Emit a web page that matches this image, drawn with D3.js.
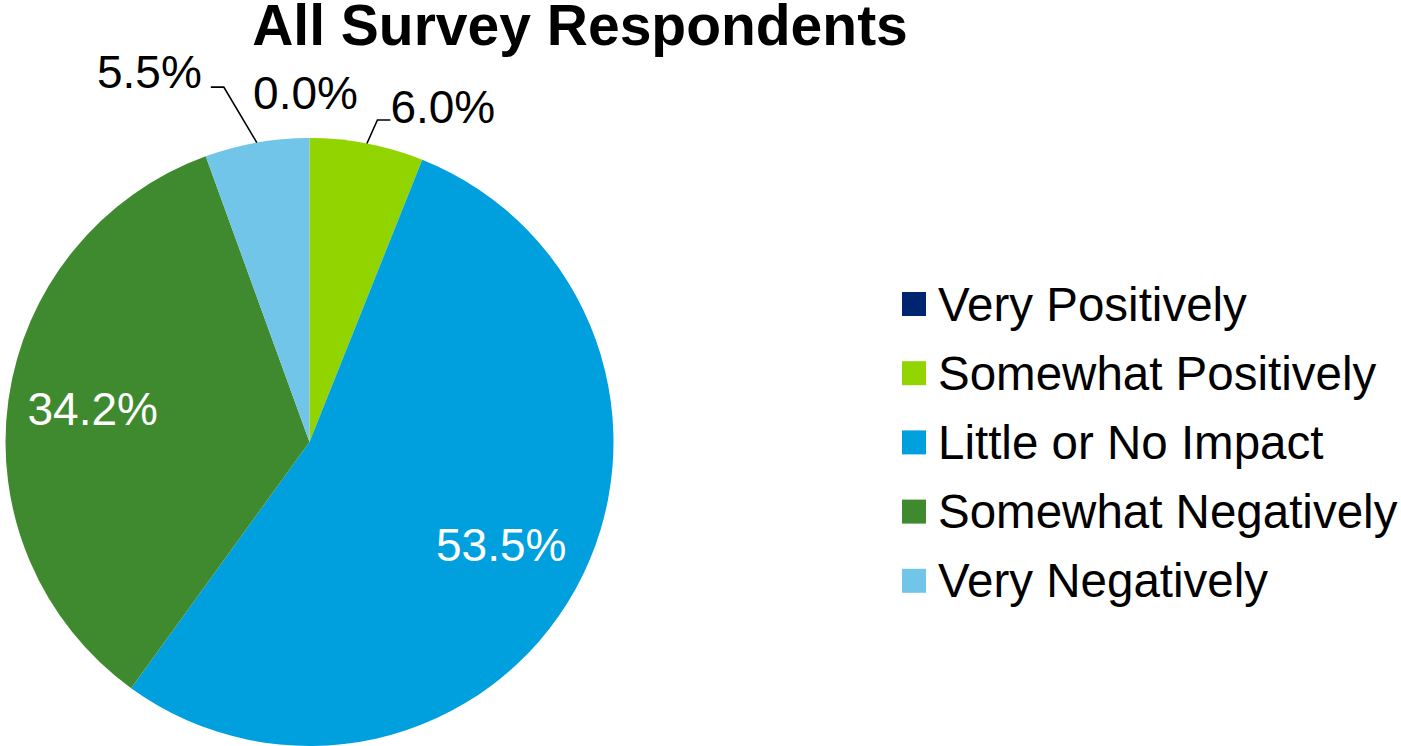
<!DOCTYPE html>
<html>
<head>
<meta charset="utf-8">
<script src="https://cdn.jsdelivr.net/npm/d3@7"></script>
<style>
  html, body { margin: 0; padding: 0; background: #fff; }
  svg { display: block; font-family: "Liberation Sans", Arial, sans-serif; }
</style>
</head>
<body>
<svg id="chart" width="1401" height="746"></svg>
<script>
// Survey responses, clockwise from 12 o'clock
const categories = ["Very Positively", "Somewhat Positively", "Little or No Impact", "Somewhat Negatively", "Very Negatively"];
const shares = [0.0, 6.0, 53.5, 34.2, 5.5];
const colors = ["#002570", "#92D400", "#00A0DF", "#3F8A2F", "#71C5E8"];
const title = "All Survey Respondents";

const svg = d3.select("#chart");
const cx = 309.5, cy = 442, radius = 304;

const data = categories.map((c, i) => ({ name: c, value: shares[i], color: colors[i] }));

const pie = d3.pie().sort(null).value(d => d.value);
const arcs = pie(data);
const arc = d3.arc().innerRadius(0).outerRadius(radius);
const labelArc = d3.arc().innerRadius(radius * 0.72).outerRadius(radius * 0.72);

// Title
svg.append("text")
  .attr("x", 580).attr("y", 45)
  .attr("text-anchor", "middle")
  .attr("font-weight", "bold")
  .attr("font-size", 57)
  .attr("fill", "#000")
  .text(title);

const g = svg.append("g").attr("transform", `translate(${cx},${cy})`);

g.selectAll("path.slice")
  .data(arcs)
  .join("path")
  .attr("class", "slice")
  .attr("d", arc)
  .attr("fill", d => d.data.color);

const fmt = v => v.toFixed(1) + "%";
const mid = d => (d.startAngle + d.endAngle) / 2;

// Large slices get white labels inside; small slices get outside labels
arcs.forEach((d, i) => {
  const a = mid(d);
  if (d.data.value >= 20) {
    const [x, y] = labelArc.centroid(d);
    g.append("text")
      .attr("x", x).attr("y", y)
      .attr("dy", "0.3em")
      .attr("text-anchor", "middle")
      .attr("font-size", 46)
      .attr("fill", "#fff")
      .text(fmt(d.data.value));
    return;
  }
  // point on rim at slice middle
  const ax = radius * Math.sin(a), ay = -radius * Math.cos(a);
  if (d.data.value === 0) {
    g.append("text")
      .attr("x", ax - 4).attr("y", ay - 29)
      .attr("text-anchor", "middle")
      .attr("font-size", 46)
      .attr("fill", "#000")
      .text(fmt(d.data.value));
    return;
  }
  const right = Math.sin(a) > 0;
  const side = right ? 1 : -1;
  // leader: rim -> elbow -> short horizontal stub
  const elbow = right ? [ax + 10.5, ay - 23.5] : [ax - 33, ay - 55.5];
  const end = [elbow[0] + side * 13, elbow[1]];
  g.append("polyline")
    .attr("points", [[ax, ay], elbow, end].map(p => p.join(",")).join(" "))
    .attr("fill", "none")
    .attr("stroke", "#000")
    .attr("stroke-width", 1.6);
  g.append("text")
    .attr("x", end[0] + (right ? 0 : -9)).attr("y", end[1] + (right ? 3 : 1))
    .attr("text-anchor", right ? "start" : "end")
    .attr("font-size", 46)
    .attr("fill", "#000")
    .text(fmt(d.data.value));
});

// Legend
const legend = svg.append("g").attr("transform", "translate(902,304)");
const rowH = 69.2;
const items = legend.selectAll("g")
  .data(data)
  .join("g")
  .attr("transform", (d, i) => `translate(0,${i * rowH})`);
items.append("rect")
  .attr("x", 0).attr("y", -12)
  .attr("width", 24).attr("height", 24)
  .attr("fill", d => d.color);
items.append("text")
  .attr("x", 36).attr("y", 0)
  .attr("dy", "0.35em")
  .attr("font-size", 47.5)
  .attr("fill", "#000")
  .text(d => d.name);
</script>
</body>
</html>
